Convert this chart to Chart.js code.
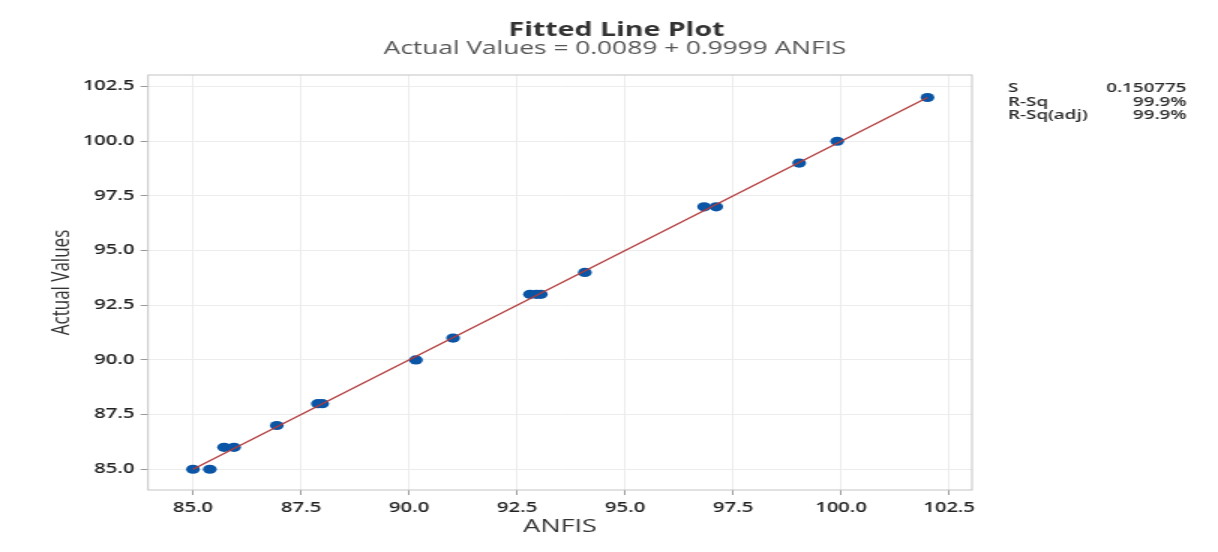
<!DOCTYPE html>
<html>
<head>
<meta charset="utf-8">
<script src="https://cdn.jsdelivr.net/npm/chart.js@4"></script>
<style>
  html, body { margin: 0; padding: 0; background: #fff; overflow: hidden; }
  #wrap { width: 812px; height: 552px; transform: scaleX(1.5); transform-origin: 0 0; }
</style>
</head>
<body>
<div id="wrap"><canvas id="chart" width="812" height="552"></canvas></div>
<script>
// observed points (ANFIS prediction vs actual)
const anfis  = [85.0, 85.39, 85.72, 85.95, 86.94, 87.89, 87.99, 90.16, 91.02, 92.8, 92.95, 93.05, 94.07, 96.83, 97.11, 99.03, 99.91, 102.0];
const actual = [85, 85, 86, 86, 87, 88, 88, 90, 91, 93, 93, 93, 94, 97, 97, 99, 100, 102];

// regression from the plot subtitle
const intercept = 0.0089;
const slope = 0.9999;
const statLabels = ['S', 'R-Sq', 'R-Sq(adj)'];
const statValues = ['0.150775', '99.9%', '99.9%'];

const xLo = Math.min(...anfis), xHi = Math.max(...anfis);
const fitLine = [xLo, xHi].map(x => ({ x: x, y: intercept + slope * x }));
const points = anfis.map((x, i) => ({ x: x, y: actual[i] }));

const fontFam = '"Open Sans", "Noto Sans", sans-serif';

const extras = {
    id: 'extras',
    beforeDatasetsDraw(chart) {
        const { ctx, chartArea: a } = chart;
        ctx.save();
        ctx.strokeStyle = '#c4c4c4';
        ctx.lineWidth = 1;
        ctx.strokeRect(a.left, a.top, a.right - a.left, a.bottom - a.top);
        ctx.restore();
    },
    afterDraw(chart) {
        const ctx = chart.ctx;
        ctx.save();
        ctx.textAlign = 'center';
        ctx.textBaseline = 'middle';
        ctx.fillStyle = '#333';
        ctx.font = 'bold 19px ' + fontFam;
        ctx.fillText('Fitted Line Plot', 411, 31);
        ctx.fillStyle = '#555';
        ctx.font = '17.5px ' + fontFam;
        ctx.fillText('Actual Values = ' + intercept + ' + ' + slope + ' ANFIS', 410, 49);

        ctx.fillStyle = '#2a2a2a';
        ctx.font = '600 12.5px ' + fontFam;
        statLabels.forEach((s, i) => {
            const y = 88.5 + i * 13.7;
            ctx.textAlign = 'left';
            ctx.fillText(s, 672, y);
            ctx.textAlign = 'right';
            ctx.fillText(statValues[i], 791, y);
        });
        ctx.restore();
    }
};

new Chart(document.getElementById('chart'), {
    type: 'scatter',
    data: {
        datasets: [
            {
                type: 'line',
                data: fitLine,
                borderColor: '#b23b3b',
                borderWidth: 1.3,
                pointRadius: 0,
                fill: false
            },
            {
                data: points,
                backgroundColor: '#0a55a5',
                borderColor: '#0a55a5',
                pointRadius: 4.6,
                pointBorderWidth: 0
            }
        ]
    },
    options: {
        responsive: false,
        devicePixelRatio: 1,
        animation: false,
        layout: { padding: { top: 75, right: 164, bottom: 0, left: 0 } },
        plugins: { legend: { display: false }, tooltip: { enabled: false } },
        scales: {
            x: {
                type: 'linear',
                min: 83.96,
                max: 103.03,
                afterFit: s => { s.height = 62; },
                border: { display: false },
                grid: { color: '#ececec', tickLength: 5, tickColor: '#9a9a9a' },
                ticks: {
                    stepSize: 2.5,
                    includeBounds: false,
                    padding: 5,
                    color: '#222',
                    font: { family: fontFam, size: 13.5, weight: '600' },
                    callback: v => v.toFixed(1)
                },
                title: {
                    display: true,
                    text: 'ANFIS',
                    color: '#333',
                    font: { family: fontFam, size: 18, weight: '500' },
                    padding: { top: 0, bottom: 14 }
                }
            },
            y: {
                type: 'linear',
                min: 84.05,
                max: 103.03,
                afterFit: s => { s.width = 98.7; },
                border: { display: false },
                grid: { color: '#ececec', tickLength: 5, tickColor: '#9a9a9a' },
                ticks: {
                    stepSize: 2.5,
                    includeBounds: false,
                    padding: 4,
                    color: '#222',
                    font: { family: fontFam, size: 13.5, weight: '600' },
                    callback: v => v.toFixed(1)
                },
                title: {
                    display: true,
                    text: 'Actual Values',
                    color: '#333',
                    font: { family: fontFam, size: 17 },
                    padding: { top: 31, bottom: 0 }
                }
            }
        }
    },
    plugins: [extras]
});
</script>
</body>
</html>
